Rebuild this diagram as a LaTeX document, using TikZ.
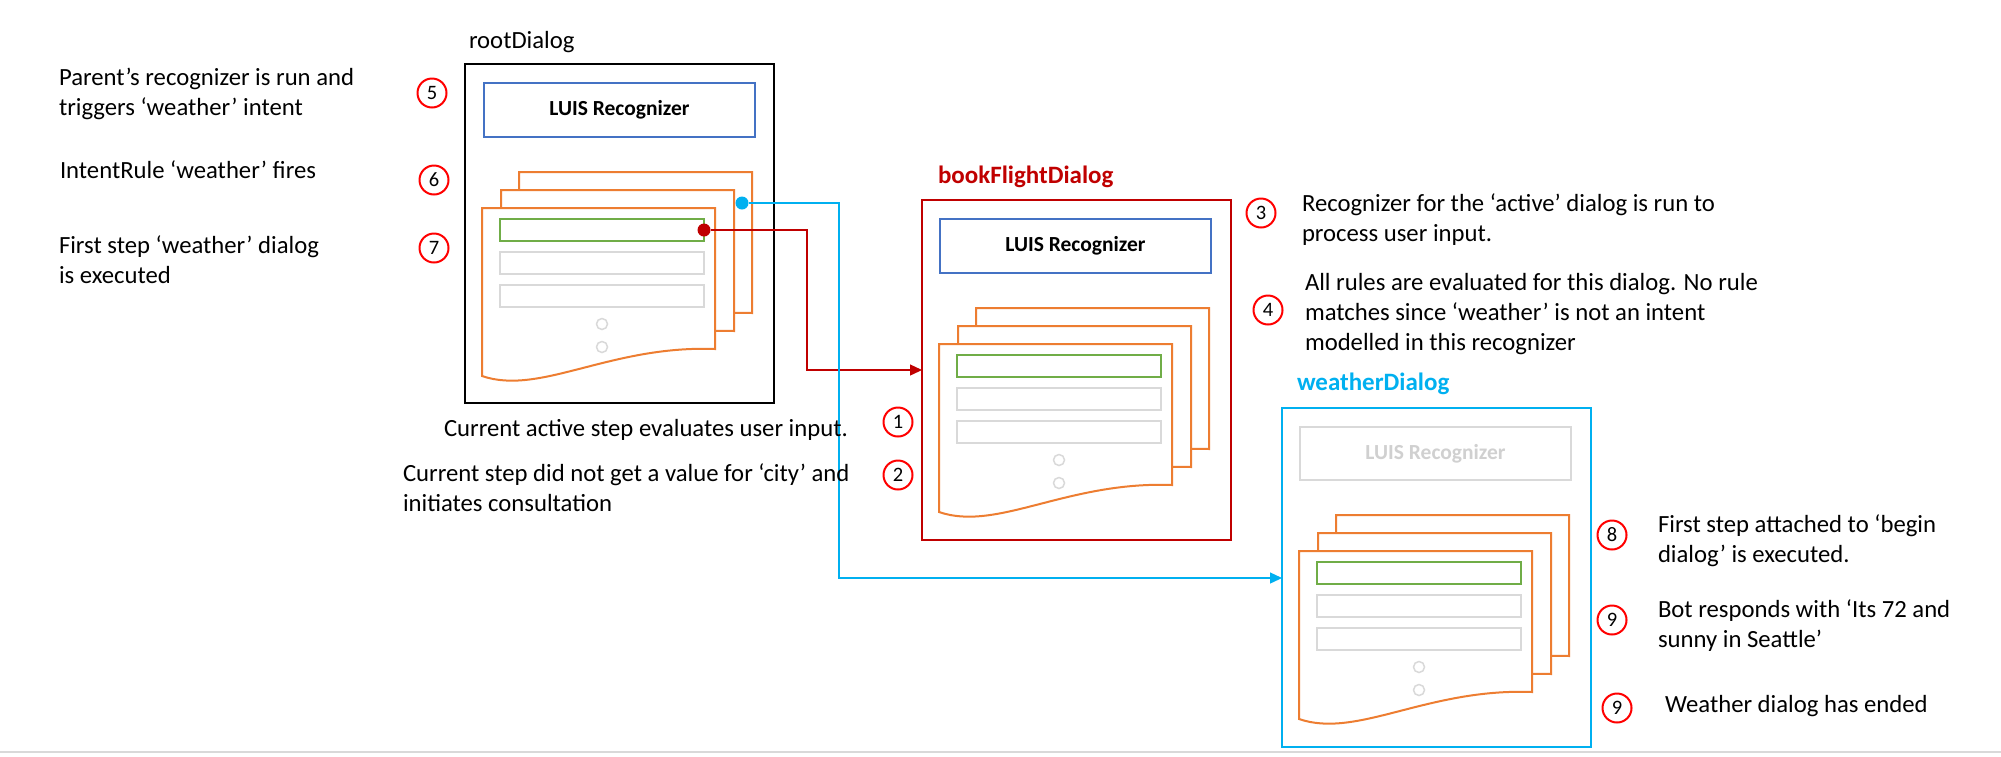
\documentclass[tikz,border=0pt]{standalone}
\usepackage{fontspec}
\setmainfont{Carlito}
\usetikzlibrary{arrows.meta}
\definecolor{numred}{HTML}{FF0000}
\definecolor{dred}{HTML}{C00000}
\definecolor{cyanc}{HTML}{00B0F0}
\definecolor{luisblue}{HTML}{4472C4}
\definecolor{orng}{HTML}{ED7D31}
\definecolor{greenc}{HTML}{70AD47}
\definecolor{slotgray}{HTML}{D9D9D9}
\definecolor{ghost}{HTML}{D0D0D0}
\newcommand{\pagestack}[3]{%
  \begin{scope}[shift={(#1,#2)}]
    \foreach \dx/\dy in {37/-36, 19/-18, 0/0} {
      \filldraw[pg] (\dx,\dy) -- ++(233,0) -- ++(0,141)
        .. controls +(-105,-4) and +(58,20) .. ++(-233,27) -- cycle;
    }
    \node[slot, draw=greenc] (#3g) at (18,11) {};
    \node[slot] (#3sa) at (18,44) {};
    \node[slot] (#3sb) at (18,77) {};
    \node[ring] (#3ca) at (120,116) {};
    \node[ring] (#3cb) at (120,139) {};
  \end{scope}}
\begin{document}
\begin{tikzpicture}[x=1pt,y=-1pt,
  every node/.style={inner sep=0pt, outer sep=0pt},
  lbl/.style={font=\fontsize{24.7}{30}\selectfont, anchor=north west, align=left},
  title/.style={font=\bfseries\fontsize{25}{30}\selectfont, anchor=north west},
  num/.style={circle, draw=numred, line width=2pt, minimum size=29pt, font=\fontsize{20.5}{20.5}\selectfont},
  dlg/.style={draw, line width=2pt, anchor=north west, minimum width=309pt, minimum height=339pt},
  luis/.style={draw=luisblue, line width=2pt, anchor=north west, minimum width=271pt, minimum height=54pt, font=\bfseries\fontsize{21.5}{24}\selectfont},
  pg/.style={draw=orng, fill=white, line width=2pt},
  slot/.style={draw=slotgray, line width=2pt, anchor=north west, minimum width=204pt, minimum height=22pt},
  ring/.style={circle, draw=slotgray, line width=1.5pt, minimum size=11pt},
  conn/.style={line width=1.3pt, -{Triangle[length=12pt,width=11pt]}},
  dotn/.style={circle, minimum size=13pt}
]
\useasboundingbox (0,0) rectangle (2001,756);
\fill[white] (0,0) rectangle (2001,756);
\draw[slotgray, line width=1.5pt] (0,752) -- (2001,752);

% ---------- dialogs ----------
\node[dlg, draw=black] (root) at (465,64) {};
\node[luis] (rootluis) at (484,83) {LUIS Recognizer};
\pagestack{482}{208}{root}

\node[dlg, draw=dred, minimum height=340pt] (book) at (922,200) {};
\node[luis] (bookluis) at (940,219) {LUIS Recognizer};
\pagestack{939}{344}{book}

\node[dlg, draw=cyanc] (weather) at (1282,408) {};
\node[luis, draw=slotgray, text=ghost, minimum height=53pt] (wluis) at (1300,427) {LUIS Recognizer};
\pagestack{1299}{551}{weather}

% ---------- titles ----------
\node[lbl] (troot) at (469,28) {\rule{0pt}{20pt}rootDialog};
\node[title, text=dred] (tbook) at (938,163) {\rule{0pt}{20pt}bookFlightDialog};
\node[title, text=cyanc] (tweather) at (1297,370) {\rule{0pt}{20pt}weatherDialog};

% ---------- connectors ----------
\node[dotn, fill=dred] (rdot) at (rootg.east) {};
\node[dotn, fill=cyanc] (bdot) at (742,203) {};
\coordinate (rbend) at (807,370);
\coordinate (bbend) at (839,578);
\draw[conn, dred] (rdot.east) -| (rbend) -- (rbend -| book.west);
\draw[conn, cyanc] (bdot.east) -| (bbend) -- (bbend -| weather.west);

% ---------- step numbers ----------
\node[num] (n5) at (432,93) {5};
\node[num] (n6) at (434,180) {6};
\node[num] (n7) at (434,248) {7};
\node[num] (n1) at (898,422) {1};
\node[num] (n2) at (898,475) {2};
\node[num] (n3) at (1261,213) {3};
\node[num] (n4) at (1268,310) {4};
\node[num] (n8) at (1612,535) {8};
\node[num] (n9) at (1612,620) {9};
\node[num] (n9b) at (1617,708) {9};

% ---------- descriptions ----------
\node[lbl] (d5) at (59,65) {\rule{0pt}{20pt}Parent’s recognizer is run and\\triggers ‘weather’ intent};
\node[lbl] (d6) at (60,158) {\rule{0pt}{20pt}IntentRule ‘weather’ fires};
\node[lbl] (d7) at (59,233) {\rule{0pt}{20pt}First step ‘weather’ dialog\\is executed};
\node[lbl] (d1) at (444,416) {\rule{0pt}{20pt}Current active step evaluates user input.};
\node[lbl] (d2) at (403,461) {\rule{0pt}{20pt}Current step did not get a value for ‘city’ and\\initiates consultation};
\node[lbl] (d3) at (1302,191) {\rule{0pt}{20pt}Recognizer for the ‘active’ dialog is run to\\process user input.};
\node[lbl] (d4) at (1305,270) {\rule{0pt}{20pt}All rules are evaluated for this dialog. No rule\\matches since ‘weather’ is not an intent\\modelled in this recognizer};
\node[lbl] (d8) at (1658,512) {\rule{0pt}{20pt}First step attached to ‘begin\\dialog’ is executed.};
\node[lbl] (d9) at (1658,597) {\rule{0pt}{20pt}Bot responds with ‘Its 72 and\\sunny in Seattle’};
\node[lbl] (d9b) at (1665,692) {\rule{0pt}{20pt}Weather dialog has ended};
\end{tikzpicture}
\end{document}
